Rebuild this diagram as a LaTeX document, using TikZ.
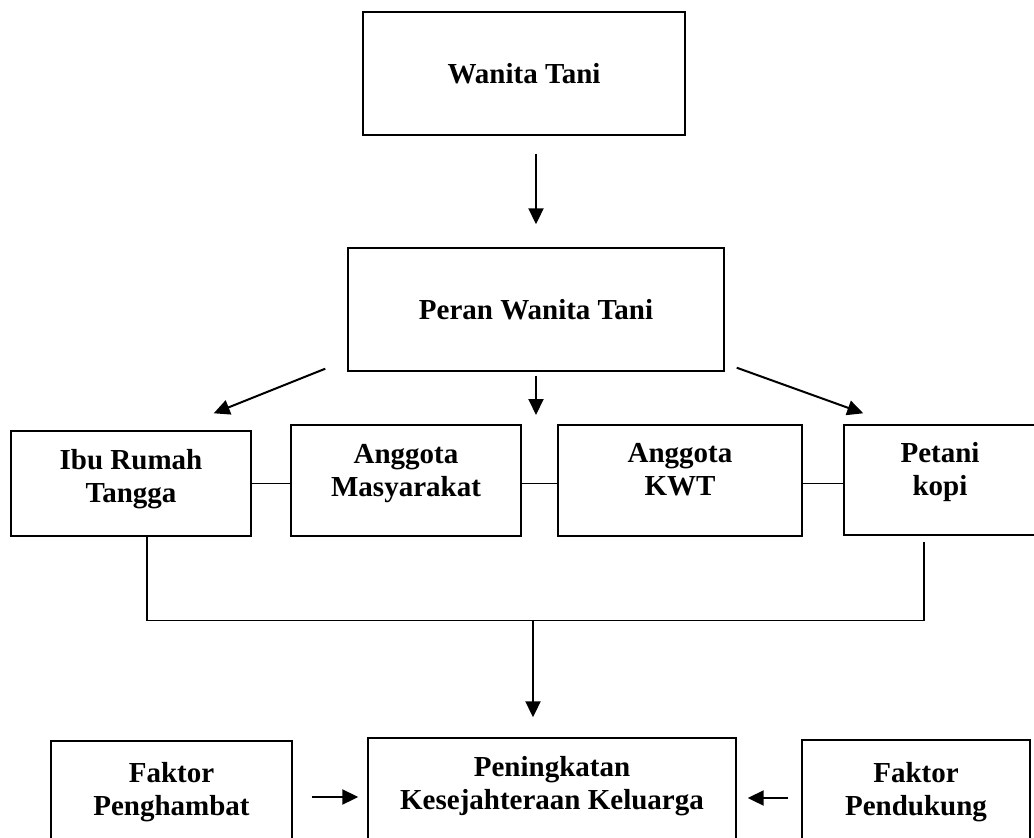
\documentclass[tikz,border=0pt]{standalone}
\usepackage{fontspec}
\setmainfont{Liberation Serif}
\usetikzlibrary{arrows.meta,positioning}

\tikzset{
  kotak/.style={draw, line width=1.4pt, inner sep=0pt, align=center},
  teks/.style={inner sep=0pt, align=center, anchor=north},
  garis/.style={line width=1.4pt},
  panah/.style={line width=2pt, -{Triangle[length=16pt,width=15pt]}}
}

\begin{document}
\begin{tikzpicture}[x=1pt,y=-1pt,font=\fontsize{29}{33}\selectfont\bfseries]
                  \useasboundingbox (0,0) rectangle (1034,838);
                  \clip (0,0) rectangle (1034,838);
                  \node [kotak, minimum width=322pt, minimum height=123pt] (wt) at (524,73.5) {Wanita Tani};
                  \node [kotak, minimum width=376pt, minimum height=123pt] (pr) at (536,309.5) {Peran Wanita Tani};
                  \node [kotak, minimum width=240pt, minimum height=105pt] (irt) at (131,483.5) {};
                  \node [teks] (irt-t) at ([yshift=-19pt]irt.north) {Ibu Rumah\\Tangga};
                  \node [kotak, minimum width=230pt, minimum height=111pt] (my) at (406,480.5) {};
                  \node [teks] (my-t) at ([yshift=-20pt]my.north) {Anggota\\Masyarakat};
                  \node [kotak, minimum width=244pt, minimum height=111pt] (kwt) at (680,480.5) {};
                  \node [teks] (kwt-t) at ([yshift=-19pt]kwt.north) {Anggota\\KWT};
                  \node [kotak, minimum width=192pt, minimum height=110pt] (pk) at (940,480) {};
                  \node [teks] (pk-t) at ([yshift=-18pt]pk.north) {Petani\\kopi};
                  \node [kotak, minimum width=241pt, minimum height=104pt] (fp) at (171.5,793) {};
                  \node [teks] (fp-t) at ([yshift=-22pt]fp.north) {Faktor\\Penghambat};
                  \node [kotak, minimum width=368pt, minimum height=107pt] (pkk) at (552,791.5) {};
                  \node [teks] (pkk-t) at ([yshift=-19pt]pkk.north) {Peningkatan\\Kesejahteraan Keluarga};
                  \node [kotak, minimum width=228pt, minimum height=105pt] (fd) at (916,792.5) {};
                  \node [teks] (fd-t) at ([yshift=-23pt]fd.north) {Faktor\\Pendukung};
                  \coordinate (ujung) at (536,415);
                  \coordinate (tengah) at (533,620);
                  \draw [panah, shorten <=18pt, shorten >=23pt] (wt.south -| pr.north) -- (pr.north);
                  \draw [panah] ([shift={(-22,-3)}]pr.south west) -- ([shift={(-38,-17)}]irt.north east);
                  \draw [panah, shorten <=4pt] (pr.south) -- (ujung);
                  \draw [panah] ([shift={(12,-4)}]pr.south east) -- ([shift={(20,-11)}]pk.north west);
                  \draw [garis] (irt.east) -- (irt.east -| my.west);
                  \draw [garis] (irt.east -| my.east) -- (irt.east -| kwt.west);
                  \draw [garis] (irt.east -| kwt.east) -- (irt.east -| pk.west);
                  \draw [garis] ([xshift=16pt]irt.south) -- ++(0,84) -| ([shift={(-16,6)}]pk.south);
                  \draw [panah, shorten >=20pt] (tengah) -- (tengah |- pkk.north);
                  \draw [panah, shorten <=19pt, shorten >=9pt] ([yshift=-4pt]fp.east) -- ([yshift=-4pt]fp.east -| pkk.west);
                  \draw [panah, shorten <=13pt, shorten >=11pt] ([yshift=-5.5pt]fd.west) -- ([yshift=-5.5pt]fd.west -| pkk.east);
\end{tikzpicture}
\end{document}
